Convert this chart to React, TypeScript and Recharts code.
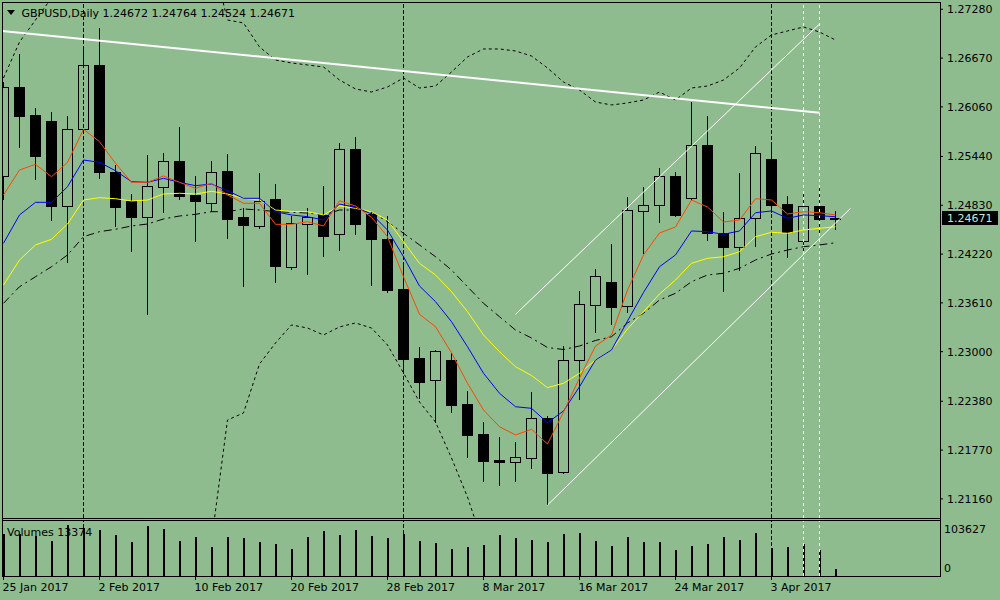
import React from 'react';
import { ComposedChart, Bar, Line, XAxis, YAxis, ReferenceLine } from 'recharts';

const BG = '#8fbc8f';
const FONT = '"DejaVu Sans", Verdana, sans-serif';

const symbolTitle = 'GBPUSD,Daily';
const ohlcTitle = '1.24672 1.24764 1.24524 1.24671';
const volumeTitle = 'Volumes 13374';
const lastPrice = 1.24671;

const opens = [1.25196,1.26305,1.25958,1.25883,1.24825,1.25779,1.26579,1.25242,1.24883,1.24687,1.25062,1.25379,1.24958,1.24854,1.25254,1.24679,1.24575,1.24908,1.24058,1.24592,1.24708,1.24467,1.25529,1.24721,1.24404,1.23783,1.22917,1.22646,1.22896,1.22346,1.21971,1.21646,1.21625,1.21667,1.22171,1.21492,1.22896,1.23579,1.23871,1.23571,1.24763,1.24829,1.25196,1.24917,1.25583,1.24479,1.24312,1.24667,1.25408,1.24846,1.24380,1.24817,1.24672];
const highs = [1.26371,1.26721,1.26050,1.25996,1.25946,1.26784,1.27042,1.25333,1.24967,1.25458,1.25479,1.25808,1.25196,1.25383,1.25471,1.24792,1.25229,1.25096,1.24700,1.24792,1.25071,1.25604,1.25679,1.24750,1.24696,1.24071,1.23058,1.23021,1.22987,1.22508,1.22121,1.21937,1.21867,1.22496,1.22196,1.23071,1.23758,1.24037,1.24346,1.24937,1.25054,1.25300,1.25246,1.26125,1.25946,1.24746,1.25237,1.25571,1.25571,1.24946,1.24971,1.25042,1.24764];
const lows = [1.24896,1.25550,1.25146,1.24637,1.24105,1.25758,1.25158,1.24562,1.24250,1.23459,1.24729,1.24896,1.24375,1.24742,1.24412,1.23812,1.24529,1.23862,1.24021,1.23962,1.24187,1.24262,1.24458,1.23825,1.23729,1.22762,1.22404,1.22113,1.22237,1.21667,1.21375,1.21321,1.21375,1.21537,1.21083,1.21467,1.22396,1.23237,1.23333,1.23483,1.24221,1.24612,1.24679,1.24902,1.24387,1.23750,1.24012,1.24312,1.24733,1.24167,1.24229,1.24479,1.24524];
const closes = [1.26309,1.25950,1.25450,1.24825,1.25779,1.26579,1.25250,1.24805,1.24687,1.25067,1.25379,1.24950,1.24887,1.25242,1.24662,1.24587,1.24887,1.24075,1.24604,1.24679,1.24450,1.25529,1.24600,1.24404,1.23775,1.22912,1.22625,1.23008,1.22337,1.21962,1.21637,1.21621,1.21679,1.22171,1.21487,1.22896,1.23596,1.23946,1.23562,1.24771,1.24829,1.25196,1.24712,1.25583,1.24479,1.24312,1.24667,1.25479,1.24837,1.24492,1.24817,1.24662,1.24671];

const maRed = [1.24959,1.25271,1.25342,1.25187,1.25367,1.25780,1.25625,1.25355,1.25117,1.25117,1.25196,1.25117,1.25042,1.25105,1.24959,1.24855,1.24855,1.24592,1.24592,1.24625,1.24571,1.24887,1.24821,1.24680,1.24437,1.23937,1.23467,1.23312,1.22987,1.22605,1.22271,1.22062,1.21959,1.22030,1.21846,1.22246,1.22671,1.23071,1.23209,1.23771,1.24209,1.24484,1.24559,1.24896,1.24809,1.24621,1.24646,1.24912,1.24896,1.24721,1.24750,1.24737,1.24709];
const maBlue = [1.24355,1.24709,1.24867,1.24867,1.25062,1.25396,1.25367,1.25262,1.25125,1.25117,1.25167,1.25117,1.25075,1.25096,1.25012,1.24917,1.24917,1.24750,1.24709,1.24687,1.24646,1.24846,1.24805,1.24721,1.24521,1.24187,1.23821,1.23625,1.23375,1.23062,1.22730,1.22480,1.22312,1.22292,1.22112,1.22259,1.22562,1.22896,1.23021,1.23384,1.23740,1.24062,1.24209,1.24509,1.24500,1.24467,1.24509,1.24737,1.24759,1.24667,1.24709,1.24700,1.24687];
const maYellow = [1.23834,1.24146,1.24334,1.24405,1.24596,1.24896,1.24925,1.24912,1.24884,1.24896,1.24971,1.24980,1.24971,1.25005,1.24971,1.24917,1.24896,1.24771,1.24752,1.24750,1.24709,1.24821,1.24792,1.24750,1.24646,1.24375,1.24105,1.23959,1.23750,1.23500,1.23209,1.23000,1.22812,1.22702,1.22550,1.22605,1.22730,1.22896,1.23021,1.23284,1.23500,1.23721,1.23896,1.24105,1.24167,1.24187,1.24250,1.24437,1.24492,1.24480,1.24521,1.24542,1.24562];
const bbMid = [1.23605,1.23812,1.23937,1.24062,1.24209,1.24437,1.24500,1.24530,1.24571,1.24596,1.24659,1.24696,1.24717,1.24750,1.24750,1.24784,1.24771,1.24750,1.24742,1.24734,1.24709,1.24771,1.24771,1.24746,1.24625,1.24480,1.24334,1.24187,1.24021,1.23812,1.23605,1.23437,1.23271,1.23171,1.23052,1.23027,1.23071,1.23140,1.23187,1.23359,1.23480,1.23646,1.23730,1.23875,1.23959,1.23980,1.24042,1.24146,1.24221,1.24271,1.24312,1.24334,1.24362];
const bbUpper: (number | null)[] = [1.26421,1.26871,1.27146,1.27421,1.27709,null,null,null,null,null,null,null,null,1.27946,1.27146,1.27109,1.26809,1.26646,1.26609,1.26584,1.26559,1.26396,1.26284,1.26246,1.26309,1.26421,1.26296,1.26321,1.26496,1.26684,1.26784,1.26784,1.26759,1.26696,1.26546,1.26371,1.26271,1.26121,1.26084,1.26109,1.26146,1.26246,1.26146,1.26296,1.26321,1.26396,1.26546,1.26809,1.26959,1.27009,1.27059,1.26996,1.26896];
const bbLower: (number | null)[] = [null,null,null,null,null,null,null,null,null,null,null,null,null,1.20634,1.22146,1.22234,1.22846,1.23109,1.23334,1.23296,1.23209,1.23309,1.23359,1.23296,1.23084,1.22734,1.22371,1.22121,1.21671,1.21184,1.20584,null,null,null,null,null,null,null,null,null,null,null,null,null,null,null,null,null,null,null,null,null,null];

const volumes = [86000,85000,81300,71100,103627,98000,93500,83300,69100,101600,95500,71100,79200,58900,79200,77200,69100,65000,54900,79200,91400,83300,93500,81300,77200,85300,71100,67000,54900,58900,63000,83300,77200,73100,69100,85300,87400,71100,61000,79200,69100,69100,52800,61000,65000,79200,73100,87400,56900,58900,65000,52800,13374];
const volMax = 103627;

const priceTicks = [1.21160,1.21770,1.22380,1.23000,1.23610,1.24220,1.24830,1.25440,1.26060,1.26670,1.27280];
const dateTickIdx = [0,6,12,18,24,30,36,42,48];
const dateTickLabels = ['25 Jan 2017','2 Feb 2017','10 Feb 2017','20 Feb 2017','28 Feb 2017','8 Mar 2017','16 Mar 2017','24 Mar 2017','3 Apr 2017'];

const trendThick = [{ x: -0.09375, y: 1.27010 }, { x: 51, y: 1.25987 }];
const channelUpper = [{ x: 32, y: 1.23467 }, { x: 51, y: 1.27096 }];
const channelLower = [{ x: 34, y: 1.21083 }, { x: 52.94, y: 1.24792 }];
const blackVLines = [5, 25, 48];
const whiteVLines = [50, 51];

const X_DOMAIN: [number, number] = [-0.09375, 58.53125];
const Y_DOMAIN: [number, number] = [1.20921, 1.27371];
const VOL_DOMAIN: [number, number] = [0, 111755];

const data = opens.map((o, i) => ({
  i,
  o,
  h: highs[i],
  l: lows[i],
  c: closes[i],
  range: [lows[i], highs[i]],
  red: maRed[i],
  blue: maBlue[i],
  yellow: maYellow[i],
  mid: bbMid[i],
  up: bbUpper[i],
  low: bbLower[i],
  vol: volumes[i],
}));

const Candle = (props: any) => {
  const { x, y, width, height, payload } = props;
  if (!payload || x == null || y == null) return null;
  const { o, h, l, c } = payload;
  const yHigh = Math.min(y, y + height);
  const yLow = Math.max(y, y + height);
  const span = h - l;
  const toY = (v: number) => yHigh + (span === 0 ? 0 : ((h - v) / span) * (yLow - yHigh));
  const cx = Math.round(x + width / 2 - 0.5) + 0.5;
  const yO = toY(o);
  const yC = toY(c);
  const top = Math.round(Math.min(yO, yC)) + 0.5;
  const bot = Math.round(Math.max(yO, yC)) + 0.5;
  const bull = c >= o;
  return (
    <g>
      <line x1={cx} x2={cx} y1={Math.round(yHigh)} y2={Math.round(yLow)} stroke="#000" strokeWidth={1} shapeRendering="crispEdges" />
      <rect x={cx - 5} y={top} width={10} height={Math.max(bot - top, 1)} fill={bull ? BG : '#000'} stroke="#000" strokeWidth={1} shapeRendering="crispEdges" />
    </g>
  );
};

const VolBar = (props: any) => {
  const { x, y, width, height } = props;
  if (x == null || !height) return null;
  const cx = x + width / 2;
  const left = Math.round(cx) - 1;
  const top = Math.min(y, y + height);
  return <rect x={left} y={top} width={2} height={Math.abs(height)} fill="#000" shapeRendering="crispEdges" />;
};

const DateTick = (props: any) => {
  const { x, y, payload } = props;
  const k = dateTickIdx.indexOf(payload.value);
  return (
    <text x={x - 1} y={y} dy="0.71em" textAnchor="start" fontSize={11} fontFamily={FONT} fill="#000">
      {k >= 0 ? dateTickLabels[k] : ''}
    </text>
  );
};

const VolTick = (props: any) => {
  const { x, y, payload } = props;
  const dy = payload.value === 0 ? -8 : 4;
  return (
    <text x={x} y={y + dy} dy="0.36em" textAnchor="start" fontSize={11} fontFamily={FONT} fill="#000">
      {String(payload.value)}
    </text>
  );
};

const PriceTag = (props: any) => {
  const vb = props.viewBox || {};
  const yy = vb.y;
  const x0 = (vb.x || 0) + (vb.width || 0);
  return (
    <g>
      <rect x={x0 + 2} y={Math.round(yy) - 7} width={56} height={14} fill="#000" />
      <text x={x0 + 7} y={yy} dy="0.36em" fontSize={11} fontFamily={FONT} fill="#c4e8d2">
        {lastPrice.toFixed(5)}
      </text>
    </g>
  );
};

export default function App() {
  return (
    <div
      style={{
        position: 'absolute',
        left: 0,
        top: 0,
        width: 1000,
        height: 600,
        background: BG,
        overflow: 'hidden',
        fontFamily: FONT,
      }}
    >
      <div style={{ position: 'absolute', left: 0, top: 0 }}>
        <ComposedChart width={1000} height={520} data={data} margin={{ top: 2, right: 0, bottom: 2, left: 2 }}>
          <XAxis type="number" dataKey="i" domain={X_DOMAIN} allowDataOverflow hide />
          <YAxis
            orientation="right"
            width={60}
            domain={Y_DOMAIN}
            allowDataOverflow
            ticks={priceTicks}
            interval={0}
            tickFormatter={(v: number) => v.toFixed(5)}
            tickSize={3}
            tickMargin={4}
            axisLine={false}
            tickLine={{ stroke: '#000' }}
            tick={{ fill: '#000', fontSize: 11, fontFamily: FONT }}
          />
          {blackVLines.map((v) => (
            <ReferenceLine key={'bv' + v} x={v} stroke="#000" strokeDasharray="4 2" />
          ))}
          {whiteVLines.map((v) => (
            <ReferenceLine key={'wv' + v} x={v} stroke="#fff" strokeDasharray="3 3" />
          ))}
          <Bar dataKey="range" barSize={10} shape={(p: any) => <Candle {...p} />} isAnimationActive={false} />
          <Line type="linear" dataKey="up" stroke="#000" strokeDasharray="3 3" strokeWidth={1} dot={false} activeDot={false} isAnimationActive={false} />
          <Line type="linear" dataKey="low" stroke="#000" strokeDasharray="3 3" strokeWidth={1} dot={false} activeDot={false} isAnimationActive={false} />
          <Line type="linear" dataKey="mid" stroke="#000" strokeDasharray="8 4 2 4" strokeWidth={1} dot={false} activeDot={false} isAnimationActive={false} />
          <Line type="linear" dataKey="yellow" stroke="#ffff00" strokeWidth={1} dot={false} activeDot={false} isAnimationActive={false} />
          <Line type="linear" dataKey="blue" stroke="#0000ff" strokeWidth={1} dot={false} activeDot={false} isAnimationActive={false} />
          <Line type="linear" dataKey="red" stroke="#ff4500" strokeWidth={1} dot={false} activeDot={false} isAnimationActive={false} />
          <ReferenceLine segment={trendThick} stroke="#fff" strokeWidth={2} ifOverflow="hidden" />
          <ReferenceLine segment={channelUpper} stroke="#fff" strokeWidth={1} ifOverflow="hidden" />
          <ReferenceLine segment={channelLower} stroke="#fff" strokeWidth={1} ifOverflow="hidden" />
          <ReferenceLine y={lastPrice} stroke="none" label={(p: any) => <PriceTag {...p} />} />
        </ComposedChart>
      </div>
      <div style={{ position: 'absolute', left: 0, top: 521 }}>
        <ComposedChart width={1000} height={79} data={data} margin={{ top: 0, right: 0, bottom: 0, left: 2 }}>
          <XAxis
            type="number"
            dataKey="i"
            domain={X_DOMAIN}
            allowDataOverflow
            ticks={dateTickIdx}
            interval={0}
            height={24}
            tickSize={4}
            tickMargin={3}
            axisLine={false}
            tickLine={{ stroke: '#000' }}
            tick={(p: any) => <DateTick {...p} />}
          />
          <YAxis
            orientation="right"
            width={60}
            domain={VOL_DOMAIN}
            allowDataOverflow
            ticks={[0, volMax]}
            interval={0}
            tickSize={0}
            tickMargin={4}
            axisLine={false}
            tickLine={false}
            tick={(p: any) => <VolTick {...p} />}
          />
          {blackVLines.map((v) => (
            <ReferenceLine key={'vbv' + v} x={v} stroke="#000" strokeDasharray="4 2" />
          ))}
          {whiteVLines.map((v) => (
            <ReferenceLine key={'vwv' + v} x={v} stroke="#fff" strokeDasharray="3 3" />
          ))}
          <Bar dataKey="vol" barSize={2} shape={(p: any) => <VolBar {...p} />} isAnimationActive={false} />
        </ComposedChart>
      </div>
      <svg
        width={1000}
        height={600}
        style={{ position: 'absolute', left: 0, top: 0, pointerEvents: 'none' }}
      >
        <g stroke="#000" strokeWidth={1} shapeRendering="crispEdges">
          <line x1={2} x2={941} y1={2.5} y2={2.5} />
          <line x1={2} x2={941} y1={518.5} y2={518.5} />
          <line x1={2} x2={941} y1={520.5} y2={520.5} />
          <line x1={2} x2={941} y1={576.5} y2={576.5} />
          <line x1={2.5} x2={2.5} y1={2} y2={577} />
          <line x1={940.5} x2={940.5} y1={2} y2={577} />
        </g>
        <polygon points="7,10 15,10 11,15" fill="#000" />
        <text x={21.5} y={16.7} fontSize={11} fontFamily={FONT} fill="#000">
          {symbolTitle}
        </text>
        <text x={102.5} y={16.7} fontSize={11} fontFamily={FONT} fill="#000">
          {ohlcTitle}
        </text>
        <text x={7} y={536} fontSize={11} fontFamily={FONT} fill="#000">
          {volumeTitle}
        </text>
      </svg>
    </div>
  );
}
